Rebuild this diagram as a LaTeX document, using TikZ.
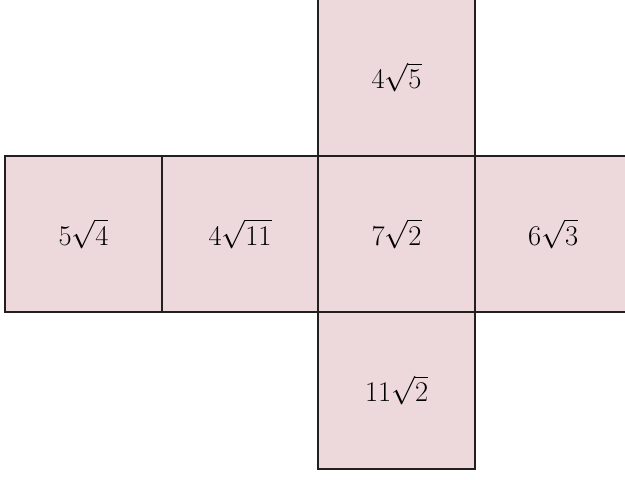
\documentclass[tikz,border=0pt]{standalone}
\usepackage{amsmath}
\usepackage{tikz}
\usetikzlibrary{positioning}
\definecolor{facepink}{RGB}{237,216,220}
\definecolor{edgegray}{RGB}{35,31,32}

\begin{document}
\begin{tikzpicture}[
      font=\fontsize{22}{26}\selectfont,
      face/.style={draw=edgegray, line width=1.6pt, fill=facepink, minimum size=4cm, inner sep=0pt, outer sep=0pt}
    ]
    \useasboundingbox (0,0) rectangle (15.97,12.24);
    \clip (0,0) rectangle (15.97,12.24);
    \node[face] (front) at (10.134,6.262) {$7\sqrt{2}$};
    \node[face, above=0pt of front] (top) {$4\sqrt{5}$};
    \node[face, below=0pt of front] (bottom) {$11\sqrt{2}$};
    \node[face, left=0pt of front] (left) {$4\sqrt{11}$};
    \node[face, left=0pt of left] (back) {$5\sqrt{4}$};
    \node[face, right=0pt of front] (right) {$6\sqrt{3}$};
  \end{tikzpicture}
\end{document}
